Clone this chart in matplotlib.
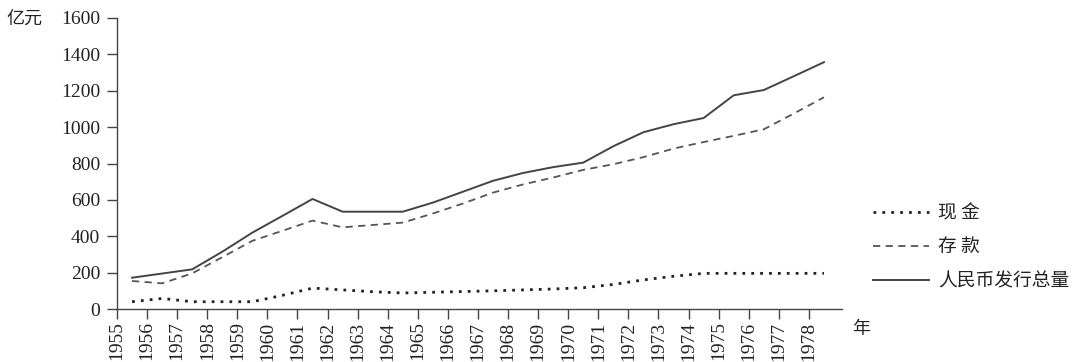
import matplotlib
matplotlib.use('Agg')
import matplotlib.pyplot as plt

# data (亿元)
years = list(range(1955, 1979))
cash = [40, 58, 40, 40, 40, 75, 115, 105, 95, 88, 92, 96,
        100, 105, 110, 117, 135, 160, 180, 196, 196, 196, 196, 196]
deposits = [154, 141, 196, 285, 375, 430, 486, 449, 462, 475, 525, 580,
            640, 685, 723, 765, 796, 835, 882, 918, 952, 988, 1075, 1164]
total = [172, 195, 218, 315, 420, 512, 605, 535, 535, 535, 585, 645,
         705, 748, 780, 805, 895, 972, 1016, 1050, 1175, 1204, 1280, 1357]
yticks = [0, 200, 400, 600, 800, 1000, 1200, 1400, 1600]
labels = ['现 金', '存 款', '人民币发行总量']

serif = ['Liberation Serif', 'DejaVu Serif']
cjk = ['Noto Sans CJK SC', 'DejaVu Sans']


def graph():
    fig = plt.figure(figsize=(10.8, 3.62), dpi=100)
    ax = fig.add_axes([117 / 1080, 1 - 309 / 362, (842 - 117) / 1080, (309 - 18) / 362])

    # values are year-end, so put them between the year ticks
    xs = [y + 0.5 for y in years]
    l1, = ax.plot(xs, cash, color='#222222', lw=2.0, linestyle=(0, (1, 2.2)))
    l2, = ax.plot(xs, deposits, color='#555555', lw=1.3, linestyle=(0, (4, 3)))
    l3, = ax.plot(xs, total, color='#444444', lw=1.4)

    ax.set_xlim(1955, 1979.1)
    ax.set_ylim(0, 1600)
    ax.set_xticks(years)
    ax.set_xticklabels([str(y) for y in years], rotation=90, family=serif,
                       fontsize=14, color='#222222')
    ax.set_yticks(yticks)
    ax.set_yticklabels([str(v) for v in yticks], family=serif, fontsize=14,
                       color='#222222')
    ax.tick_params(axis='both', direction='out', length=7, width=1.0, color='#444444')
    ax.tick_params(axis='x', pad=2)
    ax.tick_params(axis='y', pad=5)

    for s in ['top', 'right']:
        ax.spines[s].set_visible(False)
    for s in ['left', 'bottom']:
        ax.spines[s].set_color('#444444')
        ax.spines[s].set_linewidth(1.0)

    fig.text(24 / 1080, 1 - 19 / 362, '亿元', family=cjk, fontsize=13,
             ha='center', va='center', color='#222222')
    fig.text(861 / 1080, 1 - 329 / 362, '年', family=cjk, fontsize=13,
             ha='center', va='center', color='#222222')

    fig.legend([l1, l2, l3], labels, loc='upper left',
               bbox_to_anchor=(860 / 1080, 1 - 189 / 362), frameon=False,
               prop={'family': cjk, 'size': 13.5}, handlelength=3.0,
               handletextpad=0.45, labelspacing=0.7, borderpad=0.2,
               labelcolor='#222222')

    fig.savefig('out.png', dpi=100)


if __name__ == '__main__':
    graph()
